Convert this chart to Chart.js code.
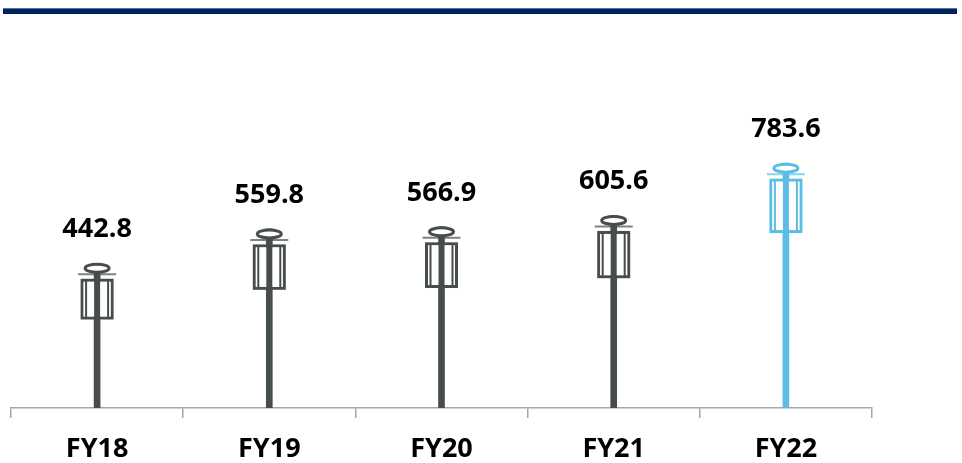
<!DOCTYPE html>
<html>
<head>
<meta charset="utf-8">
<script src="https://cdn.jsdelivr.net/npm/chart.js@4.4.0/dist/chart.umd.min.js"></script>
<style>
  html, body { margin: 0; padding: 0; background: #fff; }
  .wrap { position: relative; width: 962px; height: 463px; }
  .topline { position: absolute; left: 3px; top: 8px; width: 954px; height: 5px; background: #002060; border-top: 1px solid #5a74a0; }
  canvas { position: absolute; left: 0; top: 0; }
</style>
</head>
<body>
<div class="wrap">
  <div class="topline"></div>
  <canvas id="chart" width="962" height="463"></canvas>
</div>
<script>
const years = ['FY18', 'FY19', 'FY20', 'FY21', 'FY22']
const values = [442.8, 559.8, 566.9, 605.6, 783.6]
const barColors = ['#474d4d', '#474d4d', '#474d4d', '#474d4d', '#5bbde5']

const yMin = -50
const yMax = 1135

// draws the little pictogram on top of each stem + the value label
const pictoPlugin = {
    id: 'picto',
    afterDatasetsDraw(chart) {
        const ctx = chart.ctx
        const meta = chart.getDatasetMeta(0)
        meta.data.forEach((bar, i) => {
            const x = bar.x
            const top = bar.y
            const col = barColors[i]
            ctx.save()
            ctx.strokeStyle = col
            ctx.fillStyle = '#fff'

            // head
            ctx.lineWidth = 3
            ctx.beginPath()
            ctx.ellipse(x, top + 5, 12, 4, 0, 0, Math.PI * 2)
            ctx.fill()
            ctx.stroke()

            // crossbar
            ctx.globalAlpha = 0.7
            ctx.lineWidth = 2
            ctx.beginPath()
            ctx.moveTo(x - 19, top + 11)
            ctx.lineTo(x + 19, top + 11)
            ctx.stroke()
            ctx.globalAlpha = 1

            // body
            const h = 20 + values[i] * 0.04
            const y0 = top + 17
            ctx.lineWidth = 3
            ctx.strokeRect(x - 15, y0, 30, h)
            ctx.fillRect(x - 13.5, y0 + 1.5, 27, h - 3)
            ctx.lineWidth = 2
            ctx.beginPath()
            ctx.moveTo(x - 11, y0)
            ctx.lineTo(x - 11, y0 + h)
            ctx.moveTo(x + 11, y0)
            ctx.lineTo(x + 11, y0 + h)
            ctx.stroke()
            ctx.fillStyle = col
            ctx.fillRect(x - 3, y0, 6, h)

            // label
            ctx.fillStyle = '#000'
            ctx.font = 'bold 27px "Open Sans"'
            ctx.textAlign = 'center'
            ctx.textBaseline = 'middle'
            ctx.fillText(values[i].toFixed(1), x, top - 34)
            ctx.restore()
        })
    }
}

new Chart(document.getElementById('chart'), {
    type: 'bar',
    data: {
        labels: years,
        datasets: [{
            data: values,
            base: yMin,
            backgroundColor: barColors,
            barThickness: 6,
            borderWidth: 0
        }]
    },
    options: {
        responsive: false,
        animation: false,
        layout: { padding: { left: 11, right: 90, top: 60, bottom: -18 } },
        plugins: {
            legend: { display: false },
            tooltip: { enabled: false }
        },
        scales: {
            x: {
                grid: {
                    display: true,
                    drawOnChartArea: false,
                    tickLength: 10,
                    color: '#a6a6a6',
                    lineWidth: 1.5
                },
                border: { color: '#a6a6a6', width: 1.5 },
                ticks: {
                    color: '#000',
                    padding: 18,
                    font: { family: 'Open Sans', size: 27, weight: 'bold', lineHeight: 1 }
                }
            },
            y: {
                display: false,
                min: yMin,
                max: yMax
            }
        }
    },
    plugins: [pictoPlugin]
})
</script>
</body>
</html>
